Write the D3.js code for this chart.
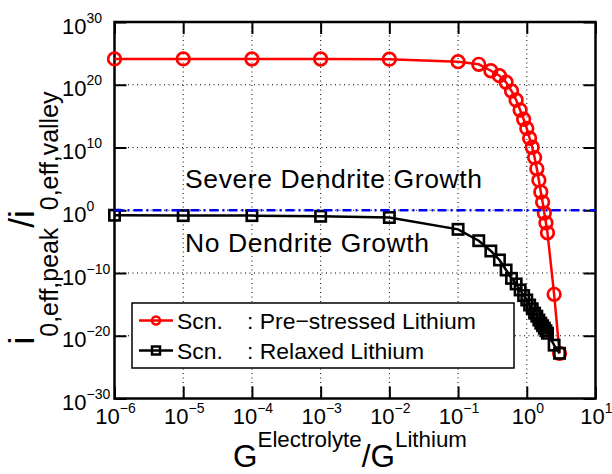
<!DOCTYPE html>
<html>
<head>
<meta charset="utf-8">
<script src="https://cdn.jsdelivr.net/npm/d3@7"></script>
<style>
  html, body { margin: 0; padding: 0; background: #fff; }
  svg { display: block; font-family: "Liberation Sans", Arial, Helvetica, sans-serif; }
</style>
</head>
<body>
<svg width="612" height="474"></svg>
<script>
// G_electrolyte / G_lithium
const ratios = [1e-6, 1e-5, 1e-4, 1e-3, 1e-2, 0.1, 0.2, 0.3, 0.4, 0.5, 0.6, 0.7, 0.8, 0.9, 1.0,
                1.1, 1.2, 1.3, 1.4, 1.5, 1.6, 1.7, 1.8, 1.9, 2.0, 2.5, 3.0];

// i0,eff,peak / i0,eff,valley, pre-stressed lithium
const preStressed = [1.32e24, 1.32e24, 1.26e24, 1.26e24, 1.2e24, 4.7e23, 1.8e23, 1.7e22, 2.8e21, 2.5e20,
                     1e19, 3.7e17, 9.5e15, 3.2e14, 1.1e13, 3e11, 1.1e10, 2.5e8, 4e6, 6.3e4,
                     8e2, 20, 0.36, 0.01, 2.5e-4, 4e-14, 1.6e-23];

// relaxed lithium
const relaxed = [0.16, 0.14, 0.14, 0.11, 0.07, 9.1e-4, 1.4e-5, 3.2e-7, 1.2e-8, 3e-10,
                 1.4e-11, 1.8e-12, 2e-13, 2.5e-14, 5e-15, 7.9e-16, 2e-16, 4e-17, 1.3e-17, 3.2e-18,
                 1e-18, 4e-19, 1.6e-19, 6.3e-20, 2.5e-20, 3.2e-22, 1.6e-23];

const xTickExp = [-6, -5, -4, -3, -2, -1, 0, 1];
const yTickExp = [-30, -20, -10, 0, 10, 20, 30];

const seriesNames = ['Pre\u2212stressed Lithium', 'Relaxed Lithium'];
const regionLabels = ['Severe Dendrite Growth', 'No Dendrite Growth'];

const svg = d3.select('svg');
const plot = { left: 114.5, right: 595.5, top: 22, bottom: 398.5 };

const x = d3.scaleLog().domain([1e-6, 10]).range([plot.left, plot.right]);
const y = d3.scaleLog().domain([1e-30, 1e30]).range([plot.bottom, plot.top]);

// scale a text (and its tspans) so that it is `target` px wide
function fitWidth(sel, target) {
  const k = target / sel.node().getComputedTextLength();
  sel.attr('font-size', +sel.attr('font-size') * k);
  sel.selectAll('tspan').each(function() {
    const t = d3.select(this);
    if (t.attr('font-size')) t.attr('font-size', +t.attr('font-size') * k);
    if (t.attr('dy')) t.attr('dy', +t.attr('dy') * k);
  });
}

// dotted grid
const grid = svg.append('g').attr('stroke', '#000').attr('stroke-width', 1)
    .attr('stroke-dasharray', '1,3.5');
grid.selectAll('.gx').data(xTickExp.slice(1, -1)).enter().append('line')
    .attr('x1', d => x(Math.pow(10, d))).attr('x2', d => x(Math.pow(10, d)))
    .attr('y1', plot.top).attr('y2', plot.bottom);
grid.selectAll('.gy').data(yTickExp.slice(1, -1)).enter().append('line')
    .attr('y1', d => y(Math.pow(10, d))).attr('y2', d => y(Math.pow(10, d)))
    .attr('x1', plot.left).attr('x2', plot.right);

// axes: ticks inside on all four sides
const tickLen = 12;
const axes = svg.append('g');
const xTicks = xTickExp.map(e => Math.pow(10, e));
const yTicks = yTickExp.map(e => Math.pow(10, e));
axes.append('g').attr('transform', `translate(0,${plot.bottom})`)
    .call(d3.axisBottom(x).tickValues(xTicks).tickSize(-tickLen).tickFormat(''));
axes.append('g').attr('transform', `translate(0,${plot.top})`)
    .call(d3.axisTop(x).tickValues(xTicks).tickSize(-tickLen).tickFormat(''));
axes.append('g').attr('transform', `translate(${plot.left},0)`)
    .call(d3.axisLeft(y).tickValues(yTicks).tickSize(-tickLen).tickFormat(''));
axes.append('g').attr('transform', `translate(${plot.right},0)`)
    .call(d3.axisRight(y).tickValues(yTicks).tickSize(-tickLen).tickFormat(''));
axes.selectAll('.domain').remove();
axes.selectAll('.tick line').attr('stroke', '#000').attr('stroke-width', 2);
svg.append('rect')
    .attr('x', plot.left).attr('y', plot.top)
    .attr('width', plot.right - plot.left).attr('height', plot.bottom - plot.top)
    .attr('fill', 'none').attr('stroke', '#000').attr('stroke-width', 2.5);

// tick labels 10^n
const tickFont = 22, supFont = 14;
const minus = d => String(d).replace('-', '\u2212');
const xl = svg.append('g').selectAll('text').data(xTickExp).enter().append('text')
    .attr('x', d => x(Math.pow(10, d)) + 1).attr('y', 423.5)
    .attr('text-anchor', 'middle').attr('font-size', tickFont);
xl.append('tspan').text('10');
xl.append('tspan').attr('font-size', supFont).attr('dy', -11).text(minus);

const yl = svg.append('g').selectAll('text').data(yTickExp).enter().append('text')
    .attr('x', 62).attr('y', d => y(Math.pow(10, d)) + 11.5)
    .attr('font-size', tickFont);
yl.append('tspan').text('10');
yl.append('tspan').attr('font-size', supFont).attr('dy', -11).text(minus);

// axis titles
const xt = svg.append('text').attr('x', 350).attr('y', 467)
    .attr('text-anchor', 'middle').attr('font-size', 31);
xt.append('tspan').text('G');
xt.append('tspan').attr('font-size', 22).attr('dy', -19.5).text('Electrolyte');
xt.append('tspan').attr('dy', 19.5).text('/G');
xt.append('tspan').attr('font-size', 22).attr('dy', -19.5).text('Lithium');
fitWidth(xt, 234);

const yt = svg.append('text').attr('transform', 'translate(34,218) rotate(-90)')
    .attr('text-anchor', 'middle').attr('font-size', 31);
yt.append('tspan').text('i');
yt.append('tspan').attr('font-size', 22).attr('dy', 21).text('0,eff,peak');
yt.append('tspan').attr('dy', -21).text('/i');
yt.append('tspan').attr('font-size', 22).attr('dy', 21).text('0,eff,valley');
fitWidth(yt, 253);

// series
const line = d3.line().x(d => x(d[0])).y(d => y(d[1]));
const redPts = ratios.map((r, i) => [r, preStressed[i]]);
const blackPts = ratios.map((r, i) => [r, relaxed[i]]);

svg.append('path').datum(redPts).attr('d', line)
    .attr('fill', 'none').attr('stroke', '#ff0000').attr('stroke-width', 2.5);
svg.append('g').selectAll('circle').data(redPts).enter().append('circle')
    .attr('cx', d => x(d[0])).attr('cy', d => y(d[1])).attr('r', 6.3)
    .attr('fill', 'none').attr('stroke', '#ff0000').attr('stroke-width', 2.7);

svg.append('path').datum(blackPts).attr('d', line)
    .attr('fill', 'none').attr('stroke', '#000').attr('stroke-width', 2.5);
svg.append('g').selectAll('rect').data(blackPts).enter().append('rect')
    .attr('x', d => x(d[0]) - 5.2).attr('y', d => y(d[1]) - 5.2)
    .attr('width', 10.4).attr('height', 10.4)
    .attr('fill', 'none').attr('stroke', '#000').attr('stroke-width', 2.6);

// threshold line at ratio = 1
svg.append('line')
    .attr('x1', plot.left).attr('x2', plot.right)
    .attr('y1', y(1)).attr('y2', y(1))
    .attr('stroke', '#0000ff').attr('stroke-width', 2.5)
    .attr('stroke-dasharray', '9,4,2,4');

// region labels
svg.append('text').attr('x', 185).attr('y', 188).attr('font-size', 26.5)
    .attr('textLength', 297).attr('lengthAdjust', 'spacing').text(regionLabels[0]);
svg.append('text').attr('x', 185).attr('y', 252).attr('font-size', 26.5)
    .attr('textLength', 244).attr('lengthAdjust', 'spacing').text(regionLabels[1]);

// legend
const lg = svg.append('g');
lg.append('rect').attr('x', 132).attr('y', 303).attr('width', 382).attr('height', 65)
    .attr('fill', '#fff').attr('stroke', '#000').attr('stroke-width', 1.5);
const rows = [
  { name: seriesNames[0], color: '#ff0000', marker: 'circle', cy: 320.5 },
  { name: seriesNames[1], color: '#000', marker: 'square', cy: 350.5 }
];
const probe = lg.append('text').attr('font-size', 22).text(': ' + seriesNames[0]);
const legendFont = 22 * 229 / probe.node().getComputedTextLength();
probe.remove();
rows.forEach(r => {
  lg.append('line').attr('x1', 139).attr('x2', 173).attr('y1', r.cy).attr('y2', r.cy)
    .attr('stroke', r.color).attr('stroke-width', 2.5);
  if (r.marker === 'circle') {
    lg.append('circle').attr('cx', 156).attr('cy', r.cy).attr('r', 4)
      .attr('fill', 'none').attr('stroke', r.color).attr('stroke-width', 2.5);
  } else {
    lg.append('rect').attr('x', 152).attr('y', r.cy - 4).attr('width', 8).attr('height', 8)
      .attr('fill', 'none').attr('stroke', r.color).attr('stroke-width', 2.5);
  }
  lg.append('text').attr('x', 177).attr('y', r.cy + 8).attr('font-size', legendFont).text('Scn.');
  lg.append('text').attr('x', 247).attr('y', r.cy + 8).attr('font-size', legendFont).text(': ' + r.name);
});
</script>
</body>
</html>
